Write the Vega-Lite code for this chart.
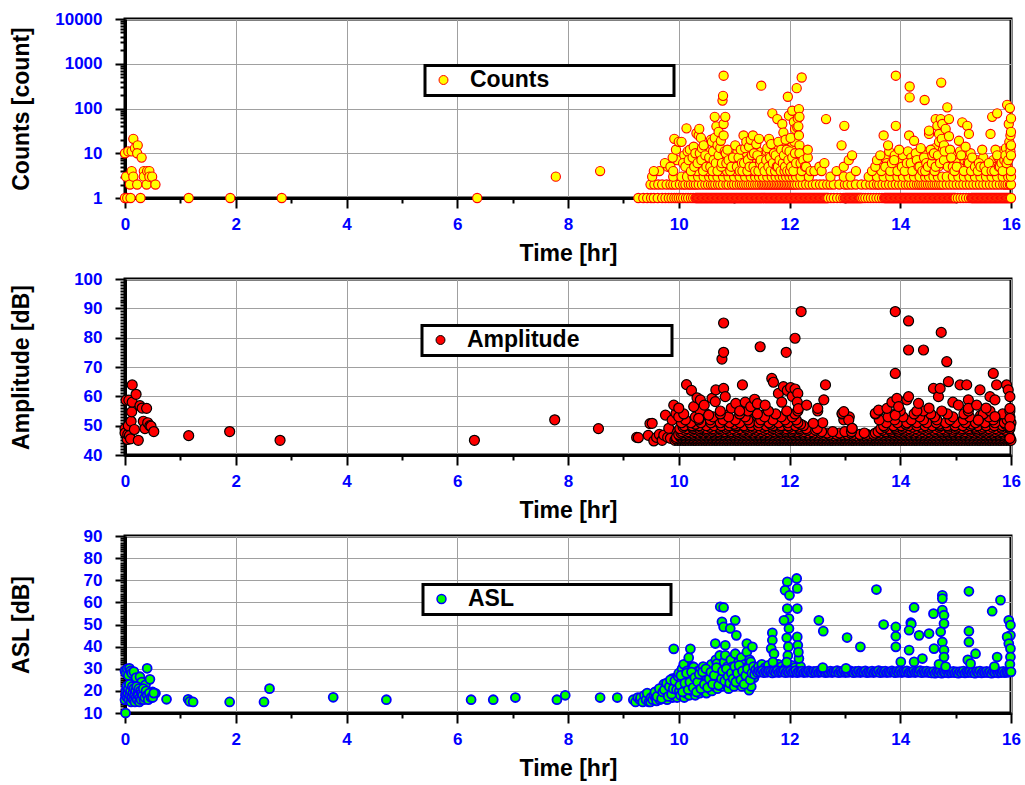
{
  "$schema": "https://vega.github.io/schema/vega-lite/v6.json",
  "background": "white",
  "padding": {"left": 9, "top": 8, "right": 0, "bottom": 0},
  "bounds": "flush",
  "spacing": 81,
  "config": {
    "font": "Liberation Sans",
    "view": {"stroke": "black", "strokeWidth": 3},
    "axis": {
      "labelFont": "Liberation Sans", "labelFontWeight": "bold", "labelColor": "#0000ff", "labelFontSize": 17,
      "titleFont": "Liberation Sans", "titleFontWeight": "bold", "titleFontSize": 23, "titleColor": "black",
      "domainColor": "black", "domainWidth": 3, "tickColor": "black", "tickWidth": 2,
      "gridColor": "#a0a0a0", "gridWidth": 1, "labelFlush": false, "labelOverlap": false
    },
    "legend": {
      "orient": "none", "title": null, "padding": 3, "symbolOffset": 4, "labelOffset": 15,
      "strokeColor": "black", "strokeWidth": 3, "fillColor": "white", "symbolType": "circle", "symbolSize": 80,
      "symbolOpacity": 1, "labelFontSize": 23, "labelFontWeight": "bold", "labelColor": "black",
      "labelFont": "Liberation Sans", "labelLimit": 0
    }
  },
  "resolve": {"scale": {"fill": "independent"}, "legend": {"fill": "independent"}},
  "datasets": {
    "counts": [
      {"t":0,"v":1},{"t":0.04,"v":1},{"t":0.1,"v":1},{"t":0.28,"v":1},{"t":0,"v":10},{"t":0.06,"v":11},{"t":0.12,"v":11},{"t":0.15,"v":21},{"t":0.18,"v":13},{"t":0.23,"v":15},{"t":0.22,"v":10},{"t":0.3,"v":8},{"t":0.02,"v":3},{"t":0.09,"v":2},{"t":0.12,"v":4},{"t":0.15,"v":3},{"t":0.22,"v":2},{"t":0.34,"v":4},{"t":0.34,"v":3},{"t":0.39,"v":2},{"t":0.4,"v":4},{"t":0.44,"v":4},{"t":0.44,"v":3},{"t":0.49,"v":3},{"t":0.55,"v":2},
      {"t":1.15,"v":1},{"t":1.9,"v":1},{"t":2.83,"v":1},{"t":6.36,"v":1},{"t":7.78,"v":3},{"t":8.58,"v":4},
      {"t":9.27,"v":1},{"t":9.36,"v":1},{"t":9.43,"v":1},{"t":9.5,"v":1},{"t":9.55,"v":1},{"t":9.62,"v":1},{"t":9.7,"v":1},{"t":9.76,"v":1},{"t":9.82,"v":1},{"t":9.87,"v":1},{"t":9.92,"v":1},{"t":9.96,"v":1},
      {"t":10.0,"v":1},{"t":10.04,"v":1},{"t":10.08,"v":1},{"t":10.13,"v":1},{"t":10.17,"v":1},{"t":10.22,"v":1},{"t":10.26,"v":1},{"t":10.3,"v":1},
      {"t":10.315,"v":1},{"t":10.33,"v":1},{"t":10.345,"v":1},{"t":10.36,"v":1},{"t":10.375,"v":1},{"t":10.39,"v":1},{"t":10.405,"v":1},{"t":10.42,"v":1},{"t":10.435,"v":1},{"t":10.45,"v":1},{"t":10.465,"v":1},{"t":10.48,"v":1},{"t":10.495,"v":1},{"t":10.51,"v":1},{"t":10.525,"v":1},{"t":10.54,"v":1},{"t":10.555,"v":1},{"t":10.57,"v":1},{"t":10.585,"v":1},{"t":10.6,"v":1},{"t":10.615,"v":1},{"t":10.63,"v":1},{"t":10.645,"v":1},{"t":10.66,"v":1},{"t":10.675,"v":1},{"t":10.69,"v":1},{"t":10.705,"v":1},{"t":10.72,"v":1},{"t":10.735,"v":1},{"t":10.75,"v":1},{"t":10.765,"v":1},{"t":10.78,"v":1},{"t":10.795,"v":1},{"t":10.81,"v":1},{"t":10.825,"v":1},{"t":10.84,"v":1},{"t":10.855,"v":1},{"t":10.87,"v":1},{"t":10.885,"v":1},{"t":10.9,"v":1},{"t":10.915,"v":1},{"t":10.93,"v":1},{"t":10.945,"v":1},{"t":10.96,"v":1},{"t":10.975,"v":1},{"t":10.99,"v":1},
      {"t":11.005,"v":1},{"t":11.02,"v":1},{"t":11.035,"v":1},{"t":11.05,"v":1},{"t":11.065,"v":1},{"t":11.08,"v":1},{"t":11.095,"v":1},{"t":11.11,"v":1},{"t":11.125,"v":1},{"t":11.14,"v":1},{"t":11.155,"v":1},{"t":11.17,"v":1},{"t":11.185,"v":1},{"t":11.2,"v":1},{"t":11.215,"v":1},{"t":11.23,"v":1},{"t":11.245,"v":1},{"t":11.26,"v":1},{"t":11.275,"v":1},{"t":11.29,"v":1},{"t":11.305,"v":1},{"t":11.32,"v":1},{"t":11.335,"v":1},{"t":11.35,"v":1},{"t":11.365,"v":1},{"t":11.38,"v":1},{"t":11.395,"v":1},{"t":11.41,"v":1},{"t":11.425,"v":1},{"t":11.44,"v":1},{"t":11.455,"v":1},{"t":11.47,"v":1},{"t":11.485,"v":1},{"t":11.5,"v":1},{"t":11.515,"v":1},{"t":11.53,"v":1},{"t":11.545,"v":1},{"t":11.56,"v":1},{"t":11.575,"v":1},{"t":11.59,"v":1},{"t":11.605,"v":1},{"t":11.62,"v":1},{"t":11.635,"v":1},{"t":11.65,"v":1},{"t":11.665,"v":1},{"t":11.68,"v":1},{"t":11.695,"v":1},{"t":11.71,"v":1},{"t":11.725,"v":1},{"t":11.74,"v":1},{"t":11.755,"v":1},{"t":11.77,"v":1},{"t":11.785,"v":1},{"t":11.8,"v":1},{"t":11.815,"v":1},{"t":11.83,"v":1},{"t":11.845,"v":1},{"t":11.86,"v":1},{"t":11.875,"v":1},{"t":11.89,"v":1},{"t":11.905,"v":1},{"t":11.92,"v":1},{"t":11.935,"v":1},{"t":11.95,"v":1},{"t":11.965,"v":1},{"t":11.98,"v":1},{"t":11.995,"v":1},
      {"t":12.01,"v":1},{"t":12.025,"v":1},{"t":12.04,"v":1},{"t":12.055,"v":1},{"t":12.07,"v":1},{"t":12.085,"v":1},{"t":12.1,"v":1},{"t":12.115,"v":1},{"t":12.13,"v":1},{"t":12.145,"v":1},{"t":12.16,"v":1},{"t":12.175,"v":1},{"t":12.19,"v":1},{"t":12.205,"v":1},{"t":12.22,"v":1},{"t":12.235,"v":1},{"t":12.25,"v":1},{"t":12.265,"v":1},{"t":12.28,"v":1},{"t":12.295,"v":1},{"t":12.31,"v":1},{"t":12.325,"v":1},{"t":12.34,"v":1},{"t":12.355,"v":1},{"t":12.37,"v":1},{"t":12.385,"v":1},{"t":12.4,"v":1},{"t":12.415,"v":1},{"t":12.43,"v":1},{"t":12.445,"v":1},{"t":12.46,"v":1},{"t":12.475,"v":1},{"t":12.49,"v":1},{"t":12.505,"v":1},{"t":12.52,"v":1},{"t":12.535,"v":1},{"t":12.55,"v":1},{"t":12.565,"v":1},{"t":12.58,"v":1},{"t":12.595,"v":1},{"t":12.61,"v":1},{"t":12.625,"v":1},{"t":12.64,"v":1},{"t":12.655,"v":1},{"t":12.67,"v":1},{"t":12.685,"v":1},{"t":12.7,"v":1},
      {"t":12.75,"v":1},{"t":12.8,"v":1},{"t":12.86,"v":1},{"t":12.92,"v":1},{"t":12.97,"v":1},{"t":13.0,"v":1},{"t":13.015,"v":1},{"t":13.03,"v":1},{"t":13.045,"v":1},{"t":13.06,"v":1},{"t":13.075,"v":1},{"t":13.09,"v":1},{"t":13.105,"v":1},{"t":13.12,"v":1},{"t":13.135,"v":1},{"t":13.15,"v":1},{"t":13.165,"v":1},{"t":13.18,"v":1},{"t":13.195,"v":1},{"t":13.21,"v":1},{"t":13.225,"v":1},{"t":13.24,"v":1},{"t":13.255,"v":1},{"t":13.27,"v":1},{"t":13.285,"v":1},{"t":13.3,"v":1},{"t":13.33,"v":1},{"t":13.37,"v":1},{"t":13.42,"v":1},{"t":13.47,"v":1},{"t":13.52,"v":1},{"t":13.57,"v":1},{"t":13.62,"v":1},{"t":13.67,"v":1},{"t":13.71,"v":1},
      {"t":13.725,"v":1},{"t":13.74,"v":1},{"t":13.755,"v":1},{"t":13.77,"v":1},{"t":13.785,"v":1},{"t":13.8,"v":1},{"t":13.815,"v":1},{"t":13.83,"v":1},{"t":13.845,"v":1},{"t":13.86,"v":1},{"t":13.875,"v":1},{"t":13.89,"v":1},{"t":13.905,"v":1},{"t":13.92,"v":1},{"t":13.935,"v":1},{"t":13.95,"v":1},{"t":13.965,"v":1},{"t":13.98,"v":1},{"t":13.995,"v":1},{"t":14.01,"v":1},{"t":14.025,"v":1},{"t":14.04,"v":1},{"t":14.055,"v":1},{"t":14.07,"v":1},{"t":14.085,"v":1},{"t":14.1,"v":1},{"t":14.115,"v":1},{"t":14.13,"v":1},{"t":14.145,"v":1},{"t":14.16,"v":1},{"t":14.175,"v":1},{"t":14.19,"v":1},{"t":14.205,"v":1},{"t":14.22,"v":1},{"t":14.235,"v":1},{"t":14.25,"v":1},{"t":14.265,"v":1},{"t":14.28,"v":1},{"t":14.295,"v":1},{"t":14.31,"v":1},{"t":14.325,"v":1},{"t":14.34,"v":1},{"t":14.355,"v":1},{"t":14.37,"v":1},{"t":14.385,"v":1},{"t":14.4,"v":1},{"t":14.415,"v":1},{"t":14.43,"v":1},{"t":14.445,"v":1},{"t":14.46,"v":1},{"t":14.475,"v":1},{"t":14.49,"v":1},{"t":14.505,"v":1},{"t":14.52,"v":1},{"t":14.535,"v":1},{"t":14.55,"v":1},{"t":14.565,"v":1},{"t":14.58,"v":1},{"t":14.595,"v":1},{"t":14.61,"v":1},{"t":14.625,"v":1},{"t":14.64,"v":1},{"t":14.655,"v":1},{"t":14.67,"v":1},{"t":14.685,"v":1},{"t":14.7,"v":1},{"t":14.715,"v":1},{"t":14.73,"v":1},{"t":14.745,"v":1},{"t":14.76,"v":1},{"t":14.775,"v":1},{"t":14.79,"v":1},{"t":14.805,"v":1},{"t":14.82,"v":1},{"t":14.835,"v":1},{"t":14.85,"v":1},{"t":14.865,"v":1},{"t":14.88,"v":1},{"t":14.895,"v":1},{"t":14.91,"v":1},{"t":14.925,"v":1},{"t":14.94,"v":1},{"t":14.955,"v":1},{"t":14.97,"v":1},{"t":14.985,"v":1},{"t":15.0,"v":1},
      {"t":15.04,"v":1},{"t":15.09,"v":1},{"t":15.14,"v":1},{"t":15.19,"v":1},{"t":15.24,"v":1},{"t":15.28,"v":1},
      {"t":15.295,"v":1},{"t":15.31,"v":1},{"t":15.325,"v":1},{"t":15.34,"v":1},{"t":15.355,"v":1},{"t":15.37,"v":1},{"t":15.385,"v":1},{"t":15.4,"v":1},{"t":15.415,"v":1},{"t":15.43,"v":1},{"t":15.445,"v":1},{"t":15.46,"v":1},{"t":15.475,"v":1},{"t":15.49,"v":1},{"t":15.505,"v":1},{"t":15.52,"v":1},{"t":15.535,"v":1},{"t":15.55,"v":1},{"t":15.565,"v":1},{"t":15.58,"v":1},{"t":15.595,"v":1},{"t":15.61,"v":1},{"t":15.625,"v":1},{"t":15.64,"v":1},{"t":15.655,"v":1},{"t":15.67,"v":1},{"t":15.685,"v":1},{"t":15.7,"v":1},{"t":15.715,"v":1},{"t":15.73,"v":1},{"t":15.745,"v":1},{"t":15.76,"v":1},{"t":15.775,"v":1},{"t":15.79,"v":1},{"t":15.805,"v":1},{"t":15.82,"v":1},{"t":15.835,"v":1},{"t":15.85,"v":1},{"t":15.865,"v":1},{"t":15.88,"v":1},{"t":15.895,"v":1},{"t":15.91,"v":1},{"t":15.925,"v":1},{"t":15.94,"v":1},{"t":15.955,"v":1},{"t":15.97,"v":1},{"t":15.985,"v":1},{"t":16.0,"v":1},
      {"t":9.49,"v":2},{"t":9.56,"v":2},{"t":9.63,"v":2},{"t":9.7,"v":2},{"t":9.78,"v":2},{"t":9.85,"v":2},{"t":9.9,"v":2},{"t":9.95,"v":2},{"t":10.02,"v":2},{"t":10.08,"v":2},{"t":10.12,"v":2},{"t":10.18,"v":2},{"t":10.22,"v":2},{"t":10.27,"v":2},{"t":10.31,"v":2},{"t":10.36,"v":2},{"t":10.42,"v":2},{"t":10.48,"v":2},{"t":10.53,"v":2},{"t":10.58,"v":2},{"t":10.62,"v":2},{"t":10.66,"v":2},{"t":10.71,"v":2},{"t":10.75,"v":2},{"t":10.8,"v":2},{"t":10.86,"v":2},{"t":10.9,"v":2},{"t":10.96,"v":2},{"t":11.0,"v":2},{"t":11.05,"v":2},{"t":11.1,"v":2},{"t":11.14,"v":2},{"t":11.18,"v":2},{"t":11.22,"v":2},{"t":11.26,"v":2},{"t":11.3,"v":2},{"t":11.34,"v":2},{"t":11.38,"v":2},{"t":11.42,"v":2},{"t":11.46,"v":2},{"t":11.5,"v":2},{"t":11.53,"v":2},{"t":11.56,"v":2},{"t":11.59,"v":2},{"t":11.62,"v":2},{"t":11.65,"v":2},{"t":11.68,"v":2},{"t":11.71,"v":2},{"t":11.74,"v":2},{"t":11.77,"v":2},{"t":11.8,"v":2},{"t":11.83,"v":2},{"t":11.86,"v":2},{"t":11.89,"v":2},{"t":11.92,"v":2},{"t":11.95,"v":2},{"t":11.98,"v":2},{"t":12.01,"v":2},{"t":12.04,"v":2},{"t":12.07,"v":2},{"t":12.1,"v":2},{"t":12.14,"v":2},{"t":12.19,"v":2},{"t":12.24,"v":2},{"t":12.3,"v":2},{"t":12.36,"v":2},{"t":12.42,"v":2},{"t":12.48,"v":2},{"t":12.55,"v":2},{"t":12.61,"v":2},{"t":12.68,"v":2},{"t":12.74,"v":2},{"t":12.8,"v":2},{"t":12.9,"v":2},{"t":13.0,"v":2},{"t":13.05,"v":2},{"t":13.12,"v":2},{"t":13.2,"v":2},{"t":13.3,"v":2},{"t":13.38,"v":2},{"t":13.46,"v":2},{"t":13.52,"v":2},{"t":13.58,"v":2},{"t":13.62,"v":2},{"t":13.68,"v":2},{"t":13.74,"v":2},{"t":13.8,"v":2},{"t":13.86,"v":2},{"t":13.92,"v":2},{"t":13.98,"v":2},{"t":14.04,"v":2},{"t":14.1,"v":2},{"t":14.15,"v":2},{"t":14.2,"v":2},{"t":14.25,"v":2},{"t":14.3,"v":2},{"t":14.34,"v":2},{"t":14.38,"v":2},{"t":14.42,"v":2},{"t":14.46,"v":2},{"t":14.5,"v":2},{"t":14.54,"v":2},{"t":14.58,"v":2},{"t":14.62,"v":2},{"t":14.66,"v":2},{"t":14.7,"v":2},{"t":14.74,"v":2},{"t":14.78,"v":2},{"t":14.84,"v":2},{"t":14.9,"v":2},{"t":14.96,"v":2},{"t":15.02,"v":2},{"t":15.08,"v":2},{"t":15.14,"v":2},{"t":15.2,"v":2},{"t":15.26,"v":2},{"t":15.32,"v":2},{"t":15.38,"v":2},{"t":15.44,"v":2},{"t":15.5,"v":2},{"t":15.56,"v":2},{"t":15.62,"v":2},{"t":15.68,"v":2},{"t":15.74,"v":2},{"t":15.8,"v":2},{"t":15.86,"v":2},{"t":15.9,"v":2},{"t":15.94,"v":2},{"t":15.98,"v":2},{"t":16.0,"v":2},
      {"t":9.52,"v":3},{"t":9.9,"v":3},{"t":10.05,"v":3},{"t":10.15,"v":3},{"t":10.25,"v":3},{"t":10.35,"v":3},{"t":10.45,"v":3},{"t":10.55,"v":3},{"t":10.62,"v":3},{"t":10.7,"v":3},{"t":10.8,"v":3},{"t":10.9,"v":3},{"t":11.0,"v":3},{"t":11.1,"v":3},{"t":11.2,"v":3},{"t":11.3,"v":3},{"t":11.38,"v":3},{"t":11.45,"v":3},{"t":11.52,"v":3},{"t":11.6,"v":3},{"t":11.68,"v":3},{"t":11.75,"v":3},{"t":11.82,"v":3},{"t":11.88,"v":3},{"t":11.94,"v":3},{"t":12.0,"v":3},{"t":12.06,"v":3},{"t":12.12,"v":3},{"t":12.2,"v":3},{"t":12.35,"v":3},{"t":12.74,"v":3},{"t":12.98,"v":3},{"t":13.1,"v":3},{"t":13.43,"v":3},{"t":13.58,"v":3},{"t":13.7,"v":3},{"t":13.82,"v":3},{"t":13.95,"v":3},{"t":14.05,"v":3},{"t":14.15,"v":3},{"t":14.25,"v":3},{"t":14.35,"v":3},{"t":14.45,"v":3},{"t":14.52,"v":3},{"t":14.6,"v":3},{"t":14.68,"v":3},{"t":14.76,"v":3},{"t":14.84,"v":3},{"t":14.95,"v":3},{"t":15.05,"v":3},{"t":15.15,"v":3},{"t":15.25,"v":3},{"t":15.35,"v":3},{"t":15.45,"v":3},{"t":15.55,"v":3},{"t":15.65,"v":3},{"t":15.75,"v":3},{"t":15.85,"v":3},{"t":15.95,"v":3},{"t":16.0,"v":3},
      {"t":9.65,"v":4},{"t":9.8,"v":5},{"t":9.97,"v":7},{"t":10.1,"v":9},{"t":10.16,"v":11},{"t":10.24,"v":6},{"t":10.33,"v":4},{"t":10.35,"v":8},{"t":10.43,"v":5},{"t":10.47,"v":12},
      {"t":10.52,"v":4},{"t":10.56,"v":6},{"t":10.59,"v":9},{"t":10.64,"v":5},{"t":10.66,"v":12},{"t":10.69,"v":8},{"t":10.71,"v":5},{"t":10.74,"v":7},{"t":10.78,"v":4},{"t":10.82,"v":8},{"t":10.87,"v":4},{"t":10.91,"v":9},{"t":10.96,"v":6},{"t":11.0,"v":4},{"t":11.03,"v":7},{"t":11.06,"v":11},{"t":11.09,"v":5},{"t":11.13,"v":9},{"t":11.16,"v":5},{"t":11.19,"v":8},{"t":11.21,"v":4},{"t":11.23,"v":10},{"t":11.26,"v":5},{"t":11.29,"v":8},{"t":11.31,"v":4},{"t":11.33,"v":6},{"t":11.37,"v":7},{"t":11.39,"v":13},{"t":11.41,"v":5},{"t":11.43,"v":11},{"t":11.46,"v":8},{"t":11.5,"v":6},{"t":11.53,"v":9},{"t":11.56,"v":5},{"t":11.59,"v":11},{"t":11.61,"v":6},{"t":11.64,"v":9},{"t":11.68,"v":5},{"t":11.71,"v":12},{"t":11.73,"v":7},{"t":11.76,"v":6},{"t":11.79,"v":9},{"t":11.81,"v":13},{"t":11.83,"v":5},{"t":11.86,"v":8},{"t":11.88,"v":16},{"t":11.9,"v":6},{"t":11.94,"v":8},{"t":11.97,"v":10},{"t":12.0,"v":6},{"t":12.04,"v":14},{"t":12.06,"v":6},{"t":12.09,"v":18},{"t":12.11,"v":8},{"t":12.13,"v":5},{"t":12.16,"v":7},{"t":12.19,"v":12},{"t":12.21,"v":8},{"t":12.24,"v":5},{"t":12.27,"v":9},
      {"t":13.6,"v":5},{"t":13.66,"v":4},{"t":13.72,"v":8},{"t":13.76,"v":6},{"t":13.8,"v":11},{"t":13.87,"v":5},{"t":13.9,"v":9},{"t":14.0,"v":7},{"t":14.05,"v":9},{"t":14.1,"v":5},{"t":14.14,"v":11},{"t":14.2,"v":8},{"t":14.24,"v":5},{"t":14.27,"v":7},{"t":14.32,"v":10},{"t":14.38,"v":6},{"t":14.42,"v":11},{"t":14.46,"v":9},{"t":14.49,"v":5},{"t":14.53,"v":8},{"t":14.56,"v":6},{"t":14.6,"v":7},{"t":14.63,"v":13},{"t":14.66,"v":6},{"t":14.69,"v":5},{"t":14.71,"v":9},{"t":14.74,"v":8},{"t":14.77,"v":12},{"t":14.81,"v":6},{"t":14.84,"v":9},{"t":14.87,"v":7},{"t":14.91,"v":6},{"t":14.94,"v":9},{"t":15.0,"v":7},{"t":15.04,"v":6},{"t":15.08,"v":11},{"t":15.11,"v":5},{"t":15.16,"v":7},{"t":15.2,"v":9},{"t":15.22,"v":6},{"t":15.27,"v":10},{"t":15.32,"v":5},{"t":15.38,"v":7},{"t":15.5,"v":8},{"t":15.58,"v":5},{"t":15.68,"v":7},{"t":15.73,"v":5},{"t":15.77,"v":8},{"t":15.82,"v":11},{"t":15.87,"v":5},{"t":15.91,"v":13},{"t":15.94,"v":5},{"t":15.97,"v":8},
      {"t":9.55,"v":4},{"t":9.75,"v":6},{"t":9.85,"v":5},{"t":9.89,"v":8},{"t":9.92,"v":21},{"t":9.95,"v":12},{"t":9.9,"v":4},{"t":10.0,"v":18},
      {"t":10.05,"v":18},{"t":10.08,"v":6},{"t":10.12,"v":5},{"t":10.14,"v":36},{"t":10.18,"v":7},{"t":10.2,"v":12},{"t":10.22,"v":4},{"t":10.25,"v":8},{"t":10.27,"v":14},{"t":10.28,"v":5},{"t":10.3,"v":10},{"t":10.32,"v":28},{"t":10.34,"v":6},{"t":10.36,"v":25},{"t":10.37,"v":35},{"t":10.38,"v":10},{"t":10.4,"v":22},{"t":10.41,"v":7},{"t":10.42,"v":13},{"t":10.44,"v":4},{"t":10.45,"v":15},{"t":10.48,"v":9},{"t":10.5,"v":5},
      {"t":10.55,"v":8},{"t":10.57,"v":5},{"t":10.58,"v":20},{"t":10.6,"v":18},{"t":10.61,"v":4},{"t":10.62,"v":11},{"t":10.63,"v":7},{"t":10.65,"v":65},{"t":10.65,"v":22},{"t":10.67,"v":6},{"t":10.68,"v":40},{"t":10.7,"v":15},{"t":10.7,"v":4},{"t":10.72,"v":30},{"t":10.72,"v":9},{"t":10.75,"v":13},{"t":10.76,"v":19},{"t":10.77,"v":5},{"t":10.78,"v":6},{"t":10.79,"v":150},{"t":10.8,"v":192},{"t":10.81,"v":540},{"t":10.81,"v":45},{"t":10.81,"v":25},{"t":10.83,"v":11},{"t":10.84,"v":65},{"t":10.85,"v":10},{"t":10.86,"v":6},{"t":10.88,"v":12},{"t":10.9,"v":7},{"t":10.93,"v":4},{"t":10.95,"v":5},{"t":10.98,"v":8},
      {"t":11.02,"v":15},{"t":11.05,"v":5},{"t":11.08,"v":8},{"t":11.1,"v":4},{"t":11.12,"v":12},{"t":11.14,"v":6},{"t":11.15,"v":4},{"t":11.17,"v":25},{"t":11.18,"v":6},{"t":11.2,"v":13},{"t":11.22,"v":18},{"t":11.24,"v":4},{"t":11.25,"v":7},{"t":11.27,"v":14},{"t":11.28,"v":5},{"t":11.3,"v":20},{"t":11.32,"v":9},{"t":11.34,"v":25},{"t":11.35,"v":5},{"t":11.36,"v":10},{"t":11.38,"v":4},{"t":11.4,"v":16},{"t":11.42,"v":9},{"t":11.44,"v":4},{"t":11.45,"v":21},{"t":11.47,"v":6},{"t":11.48,"v":7},{"t":11.49,"v":323},
      {"t":11.52,"v":5},{"t":11.55,"v":4},{"t":11.58,"v":7},{"t":11.6,"v":13},{"t":11.62,"v":5},{"t":11.63,"v":21},{"t":11.65,"v":8},{"t":11.66,"v":4},{"t":11.67,"v":16},{"t":11.69,"v":78},{"t":11.7,"v":6},{"t":11.72,"v":10},{"t":11.74,"v":4},{"t":11.75,"v":9},{"t":11.77,"v":5},{"t":11.78,"v":58},{"t":11.79,"v":5},{"t":11.8,"v":18},{"t":11.82,"v":7},{"t":11.84,"v":4},{"t":11.85,"v":12},{"t":11.87,"v":45},{"t":11.88,"v":6},{"t":11.89,"v":29},{"t":11.9,"v":9},{"t":11.91,"v":4},{"t":11.92,"v":5},{"t":11.93,"v":20},{"t":11.95,"v":12},{"t":11.96,"v":4},{"t":11.97,"v":183},{"t":11.98,"v":7},{"t":11.99,"v":69},{"t":12.0,"v":11},{"t":12.01,"v":4},{"t":12.02,"v":22},{"t":12.03,"v":5},{"t":12.05,"v":89},{"t":12.05,"v":8},{"t":12.07,"v":4},{"t":12.08,"v":50},{"t":12.1,"v":35},{"t":12.1,"v":10},{"t":12.12,"v":6},{"t":12.13,"v":285},{"t":12.14,"v":38},{"t":12.15,"v":60},{"t":12.16,"v":40},{"t":12.17,"v":97},{"t":12.17,"v":25},{"t":12.18,"v":65},{"t":12.18,"v":15},{"t":12.18,"v":10},{"t":12.2,"v":6},{"t":12.22,"v":493},{"t":12.22,"v":4},{"t":12.25,"v":7},{"t":12.28,"v":5},{"t":12.3,"v":5},{"t":12.33,"v":8},{"t":12.33,"v":12},{"t":12.38,"v":4},
      {"t":12.45,"v":4},{"t":12.54,"v":5},{"t":12.58,"v":4},{"t":12.63,"v":6},{"t":12.66,"v":58},{"t":12.85,"v":4},{"t":12.94,"v":15},{"t":12.98,"v":5},{"t":12.99,"v":41},
      {"t":13.07,"v":7},{"t":13.13,"v":9},{"t":13.2,"v":4},{"t":13.49,"v":4},{"t":13.55,"v":5},{"t":13.58,"v":7},{"t":13.64,"v":9},{"t":13.7,"v":25},{"t":13.73,"v":5},{"t":13.78,"v":15},{"t":13.82,"v":4},{"t":13.85,"v":6},{"t":13.89,"v":7},{"t":13.92,"v":41},{"t":13.92,"v":540},{"t":13.95,"v":4},{"t":13.98,"v":12},
      {"t":14.03,"v":5},{"t":14.08,"v":4},{"t":14.12,"v":6},{"t":14.16,"v":25},{"t":14.17,"v":310},{"t":14.17,"v":177},{"t":14.19,"v":6},{"t":14.22,"v":4},{"t":14.25,"v":19},{"t":14.28,"v":10},{"t":14.3,"v":7},{"t":14.33,"v":5},{"t":14.35,"v":5},{"t":14.37,"v":13},{"t":14.4,"v":4},{"t":14.43,"v":8},{"t":14.44,"v":155},{"t":14.45,"v":4},{"t":14.47,"v":6},{"t":14.5,"v":5},{"t":14.52,"v":27},{"t":14.52,"v":32},{"t":14.55,"v":12},{"t":14.57,"v":6},{"t":14.58,"v":9},{"t":14.61,"v":10},{"t":14.62,"v":4},{"t":14.64,"v":58},{"t":14.64,"v":5},{"t":14.67,"v":41},{"t":14.68,"v":9},{"t":14.7,"v":27},{"t":14.7,"v":18},{"t":14.72,"v":6},{"t":14.73,"v":58},{"t":14.74,"v":380},{"t":14.75,"v":21},{"t":14.76,"v":45},{"t":14.79,"v":15},{"t":14.79,"v":7},{"t":14.8,"v":11},{"t":14.82,"v":35},{"t":14.85,"v":106},{"t":14.86,"v":5},{"t":14.88,"v":58},{"t":14.88,"v":24},{"t":14.9,"v":12},{"t":14.92,"v":8},{"t":14.95,"v":5},{"t":14.98,"v":4},
      {"t":15.02,"v":5},{"t":15.06,"v":19},{"t":15.1,"v":9},{"t":15.12,"v":49},{"t":15.15,"v":4},{"t":15.18,"v":14},{"t":15.21,"v":41},{"t":15.24,"v":27},{"t":15.24,"v":6},{"t":15.28,"v":4},{"t":15.3,"v":8},{"t":15.35,"v":5},{"t":15.4,"v":4},{"t":15.42,"v":6},{"t":15.45,"v":5},{"t":15.48,"v":12},{"t":15.52,"v":5},{"t":15.55,"v":4},{"t":15.6,"v":6},{"t":15.63,"v":27},{"t":15.65,"v":4},{"t":15.66,"v":65},{"t":15.7,"v":4},{"t":15.72,"v":12},{"t":15.75,"v":78},{"t":15.75,"v":9},{"t":15.78,"v":5},{"t":15.8,"v":5},{"t":15.83,"v":6},{"t":15.85,"v":4},{"t":15.88,"v":7},{"t":15.9,"v":9},{"t":15.92,"v":6},{"t":15.93,"v":121},{"t":15.95,"v":7},{"t":15.96,"v":45},{"t":15.97,"v":18},{"t":15.98,"v":102},{"t":15.99,"v":25},{"t":15.99,"v":14},{"t":15.99,"v":11},{"t":16.0,"v":9},{"t":16.0,"v":4},{"t":16.0,"v":30},{"t":16.0,"v":60},{"t":16.0,"v":15}
    ],
    "amplitude": [
      {"t":0.0,"v":49},{"t":0.0,"v":47.5},{"t":0.02,"v":58.7},{"t":0.04,"v":45.3},{"t":0.05,"v":47},{"t":0.06,"v":50},{"t":0.07,"v":58.7},{"t":0.08,"v":46.6},{"t":0.1,"v":45.5},{"t":0.11,"v":51.5},{"t":0.12,"v":54.7},{"t":0.13,"v":58},{"t":0.13,"v":63.9},{"t":0.17,"v":48.7},{"t":0.2,"v":60.7},{"t":0.24,"v":45},{"t":0.27,"v":56.8},{"t":0.31,"v":56},{"t":0.33,"v":51.5},{"t":0.36,"v":49},{"t":0.39,"v":55.9},{"t":0.41,"v":51},{"t":0.45,"v":50},{"t":0.47,"v":49.8},{"t":0.52,"v":48},
      {"t":1.15,"v":46.6},{"t":1.89,"v":48},{"t":2.8,"v":45},{"t":6.31,"v":45},{"t":7.76,"v":52},{"t":8.55,"v":49},
      {"t":9.24,"v":46},{"t":9.27,"v":45.9},{"t":9.45,"v":46.7},{"t":9.48,"v":50.7},{"t":9.52,"v":50.8},{"t":9.55,"v":44.8},{"t":9.6,"v":46},{"t":9.65,"v":47},{"t":9.7,"v":45},{"t":9.73,"v":46.8},{"t":9.76,"v":53.6},{"t":9.8,"v":46},{"t":9.82,"v":49.1},{"t":9.85,"v":45.7},{"t":9.88,"v":51.9},{"t":9.95,"v":54.2},{"t":9.98,"v":48},
      {"t":9.93,"v":45},{"t":9.98,"v":45},{"t":10.03,"v":45},{"t":10.08,"v":45},{"t":10.12,"v":45},{"t":10.17,"v":45},{"t":10.22,"v":45},{"t":10.27,"v":45},{"t":10.31,"v":45},{"t":10.36,"v":45},{"t":10.41,"v":45},{"t":10.46,"v":45},{"t":10.5,"v":45},{"t":10.55,"v":45},{"t":10.6,"v":45},{"t":10.65,"v":45},{"t":10.69,"v":45},{"t":10.74,"v":45},{"t":10.79,"v":45},{"t":10.84,"v":45},{"t":10.88,"v":45},{"t":10.93,"v":45},{"t":10.98,"v":45},{"t":11.03,"v":45},{"t":11.07,"v":45},{"t":11.12,"v":45},{"t":11.17,"v":45},{"t":11.22,"v":45},{"t":11.26,"v":45},{"t":11.31,"v":45},{"t":11.36,"v":45},{"t":11.41,"v":45},{"t":11.45,"v":45},{"t":11.5,"v":45},{"t":11.55,"v":45},{"t":11.6,"v":45},{"t":11.64,"v":45},{"t":11.69,"v":45},{"t":11.74,"v":45},{"t":11.79,"v":45},{"t":11.83,"v":45},{"t":11.88,"v":45},{"t":11.93,"v":45},{"t":11.98,"v":45},{"t":12.02,"v":45},{"t":12.07,"v":45},{"t":12.12,"v":45},{"t":12.17,"v":45},{"t":12.21,"v":45},{"t":12.26,"v":45},{"t":12.31,"v":45},{"t":12.36,"v":45},{"t":12.4,"v":45},{"t":12.45,"v":45},{"t":12.5,"v":45},{"t":12.55,"v":45},{"t":12.59,"v":45},{"t":12.64,"v":45},{"t":12.69,"v":45},{"t":12.74,"v":45},{"t":12.78,"v":45},{"t":12.83,"v":45},{"t":12.88,"v":45},{"t":12.93,"v":45},{"t":12.97,"v":45},{"t":13.02,"v":45},{"t":13.07,"v":45},{"t":13.12,"v":45},{"t":13.16,"v":45},{"t":13.21,"v":45},{"t":13.26,"v":45},{"t":13.31,"v":45},{"t":13.35,"v":45},{"t":13.4,"v":45},{"t":13.45,"v":45},{"t":13.5,"v":45},{"t":13.54,"v":45},{"t":13.59,"v":45},{"t":13.64,"v":45},{"t":13.69,"v":45},{"t":13.73,"v":45},{"t":13.78,"v":45},{"t":13.83,"v":45},{"t":13.88,"v":45},{"t":13.92,"v":45},{"t":13.97,"v":45},{"t":14.02,"v":45},{"t":14.07,"v":45},{"t":14.11,"v":45},{"t":14.16,"v":45},{"t":14.21,"v":45},{"t":14.26,"v":45},{"t":14.3,"v":45},{"t":14.35,"v":45},{"t":14.4,"v":45},{"t":14.45,"v":45},{"t":14.49,"v":45},{"t":14.54,"v":45},{"t":14.59,"v":45},{"t":14.64,"v":45},{"t":14.68,"v":45},{"t":14.73,"v":45},{"t":14.78,"v":45},{"t":14.83,"v":45},{"t":14.87,"v":45},{"t":14.92,"v":45},{"t":14.97,"v":45},{"t":15.02,"v":45},{"t":15.06,"v":45},{"t":15.11,"v":45},{"t":15.16,"v":45},{"t":15.21,"v":45},{"t":15.25,"v":45},{"t":15.3,"v":45},{"t":15.35,"v":45},{"t":15.4,"v":45},{"t":15.44,"v":45},{"t":15.49,"v":45},{"t":15.54,"v":45},{"t":15.59,"v":45},{"t":15.63,"v":45},{"t":15.68,"v":45},{"t":15.73,"v":45},{"t":15.78,"v":45},{"t":15.82,"v":45},{"t":15.87,"v":45},{"t":15.92,"v":45},{"t":15.97,"v":45},{"t":16.0,"v":45},
      {"t":9.95,"v":45.5},{"t":10.01,"v":45.5},{"t":10.07,"v":45.5},{"t":10.13,"v":45.5},{"t":10.19,"v":45.5},{"t":10.25,"v":45.5},{"t":10.31,"v":45.5},{"t":10.37,"v":45.5},{"t":10.43,"v":45.5},{"t":10.49,"v":45.5},{"t":10.55,"v":45.5},{"t":10.61,"v":45.5},{"t":10.67,"v":45.5},{"t":10.73,"v":45.5},{"t":10.79,"v":45.5},{"t":10.85,"v":45.5},{"t":10.91,"v":45.5},{"t":10.97,"v":45.5},{"t":11.03,"v":45.5},{"t":11.09,"v":45.5},{"t":11.15,"v":45.5},{"t":11.21,"v":45.5},{"t":11.27,"v":45.5},{"t":11.33,"v":45.5},{"t":11.39,"v":45.5},{"t":11.45,"v":45.5},{"t":11.51,"v":45.5},{"t":11.57,"v":45.5},{"t":11.63,"v":45.5},{"t":11.69,"v":45.5},{"t":11.75,"v":45.5},{"t":11.81,"v":45.5},{"t":11.87,"v":45.5},{"t":11.93,"v":45.5},{"t":11.99,"v":45.5},{"t":12.05,"v":45.5},{"t":12.11,"v":45.5},{"t":12.17,"v":45.5},{"t":12.23,"v":45.5},{"t":12.29,"v":45.5},{"t":12.35,"v":45.5},{"t":12.41,"v":45.5},{"t":12.47,"v":45.5},{"t":12.53,"v":45.5},{"t":12.59,"v":45.5},{"t":12.65,"v":45.5},{"t":12.71,"v":45.5},{"t":12.77,"v":45.5},{"t":12.83,"v":45.5},{"t":12.89,"v":45.5},{"t":12.95,"v":45.5},{"t":13.01,"v":45.5},{"t":13.07,"v":45.5},{"t":13.13,"v":45.5},{"t":13.19,"v":45.5},{"t":13.25,"v":45.5},{"t":13.31,"v":45.5},{"t":13.37,"v":45.5},{"t":13.43,"v":45.5},{"t":13.49,"v":45.5},{"t":13.55,"v":45.5},{"t":13.61,"v":45.5},{"t":13.67,"v":45.5},{"t":13.73,"v":45.5},{"t":13.79,"v":45.5},{"t":13.85,"v":45.5},{"t":13.91,"v":45.5},{"t":13.97,"v":45.5},{"t":14.03,"v":45.5},{"t":14.09,"v":45.5},{"t":14.15,"v":45.5},{"t":14.21,"v":45.5},{"t":14.27,"v":45.5},{"t":14.33,"v":45.5},{"t":14.39,"v":45.5},{"t":14.45,"v":45.5},{"t":14.51,"v":45.5},{"t":14.57,"v":45.5},{"t":14.63,"v":45.5},{"t":14.69,"v":45.5},{"t":14.75,"v":45.5},{"t":14.81,"v":45.5},{"t":14.87,"v":45.5},{"t":14.93,"v":45.5},{"t":14.99,"v":45.5},{"t":15.05,"v":45.5},{"t":15.11,"v":45.5},{"t":15.17,"v":45.5},{"t":15.23,"v":45.5},{"t":15.29,"v":45.5},{"t":15.35,"v":45.5},{"t":15.41,"v":45.5},{"t":15.47,"v":45.5},{"t":15.53,"v":45.5},{"t":15.59,"v":45.5},{"t":15.65,"v":45.5},{"t":15.71,"v":45.5},{"t":15.77,"v":45.5},{"t":15.83,"v":45.5},{"t":15.89,"v":45.5},{"t":15.95,"v":45.5},
      {"t":9.96,"v":46},{"t":10.04,"v":46},{"t":10.1,"v":46},{"t":10.17,"v":46},{"t":10.24,"v":46},{"t":10.31,"v":46},{"t":10.38,"v":46},{"t":10.45,"v":46},{"t":10.52,"v":46},{"t":10.58,"v":46},{"t":10.65,"v":46},{"t":10.72,"v":46},{"t":10.79,"v":46},{"t":10.86,"v":46},{"t":10.93,"v":46},{"t":11.0,"v":46},{"t":11.06,"v":46},{"t":11.13,"v":46},{"t":11.2,"v":46},{"t":11.27,"v":46},{"t":11.34,"v":46},{"t":11.41,"v":46},{"t":11.47,"v":46},{"t":11.54,"v":46},{"t":11.61,"v":46},{"t":11.68,"v":46},{"t":11.75,"v":46},{"t":11.82,"v":46},{"t":11.88,"v":46},{"t":11.95,"v":46},{"t":12.02,"v":46},{"t":12.09,"v":46},{"t":12.16,"v":46},{"t":12.23,"v":46},{"t":12.3,"v":46},{"t":12.36,"v":46},{"t":12.43,"v":46},{"t":12.5,"v":46},{"t":12.57,"v":46},{"t":12.64,"v":46},{"t":12.71,"v":46},{"t":12.77,"v":46},{"t":12.84,"v":46},{"t":12.91,"v":46},{"t":12.98,"v":46},{"t":13.05,"v":46},{"t":13.12,"v":46},{"t":13.18,"v":46},{"t":13.25,"v":46},{"t":13.32,"v":46},{"t":13.39,"v":46},{"t":13.46,"v":46},{"t":13.53,"v":46},{"t":13.59,"v":46},{"t":13.66,"v":46},{"t":13.73,"v":46},{"t":13.8,"v":46},{"t":13.87,"v":46},{"t":13.94,"v":46},{"t":14.0,"v":46},{"t":14.07,"v":46},{"t":14.14,"v":46},{"t":14.21,"v":46},{"t":14.28,"v":46},{"t":14.35,"v":46},{"t":14.41,"v":46},{"t":14.48,"v":46},{"t":14.55,"v":46},{"t":14.62,"v":46},{"t":14.69,"v":46},{"t":14.76,"v":46},{"t":14.82,"v":46},{"t":14.89,"v":46},{"t":14.96,"v":46},{"t":15.03,"v":46},{"t":15.1,"v":46},{"t":15.17,"v":46},{"t":15.23,"v":46},{"t":15.3,"v":46},{"t":15.37,"v":46},{"t":15.44,"v":46},{"t":15.51,"v":46},{"t":15.58,"v":46},{"t":15.64,"v":46},{"t":15.71,"v":46},{"t":15.78,"v":46},{"t":15.85,"v":46},{"t":15.92,"v":46},{"t":15.98,"v":46},
      {"t":10.02,"v":46.5},{"t":10.1,"v":46.5},{"t":10.18,"v":46.5},{"t":10.26,"v":46.5},{"t":10.34,"v":46.5},{"t":10.42,"v":46.5},{"t":10.5,"v":46.5},{"t":10.58,"v":46.5},{"t":10.66,"v":46.5},{"t":10.74,"v":46.5},{"t":10.82,"v":46.5},{"t":10.9,"v":46.5},{"t":10.98,"v":46.5},{"t":11.06,"v":46.5},{"t":11.14,"v":46.5},{"t":11.22,"v":46.5},{"t":11.3,"v":46.5},{"t":11.38,"v":46.5},{"t":11.46,"v":46.5},{"t":11.54,"v":46.5},{"t":11.62,"v":46.5},{"t":11.7,"v":46.5},{"t":11.78,"v":46.5},{"t":11.86,"v":46.5},{"t":11.94,"v":46.5},{"t":12.02,"v":46.5},{"t":12.1,"v":46.5},{"t":12.18,"v":46.5},{"t":12.26,"v":46.5},{"t":12.34,"v":46.5},{"t":12.42,"v":46.5},{"t":12.5,"v":46.5},{"t":12.58,"v":46.5},{"t":12.66,"v":46.5},{"t":12.74,"v":46.5},{"t":12.82,"v":46.5},{"t":12.9,"v":46.5},{"t":12.98,"v":46.5},{"t":13.06,"v":46.5},{"t":13.14,"v":46.5},{"t":13.22,"v":46.5},{"t":13.3,"v":46.5},{"t":13.38,"v":46.5},{"t":13.46,"v":46.5},{"t":13.54,"v":46.5},{"t":13.62,"v":46.5},{"t":13.7,"v":46.5},{"t":13.78,"v":46.5},{"t":13.86,"v":46.5},{"t":13.94,"v":46.5},{"t":14.02,"v":46.5},{"t":14.1,"v":46.5},{"t":14.18,"v":46.5},{"t":14.26,"v":46.5},{"t":14.34,"v":46.5},{"t":14.42,"v":46.5},{"t":14.5,"v":46.5},{"t":14.58,"v":46.5},{"t":14.66,"v":46.5},{"t":14.74,"v":46.5},{"t":14.82,"v":46.5},{"t":14.9,"v":46.5},{"t":14.98,"v":46.5},{"t":15.06,"v":46.5},{"t":15.14,"v":46.5},{"t":15.22,"v":46.5},{"t":15.3,"v":46.5},{"t":15.38,"v":46.5},{"t":15.46,"v":46.5},{"t":15.54,"v":46.5},{"t":15.62,"v":46.5},{"t":15.7,"v":46.5},{"t":15.78,"v":46.5},{"t":15.86,"v":46.5},{"t":15.94,"v":46.5},
      {"t":10.0,"v":47},{"t":10.09,"v":47},{"t":10.18,"v":47},{"t":10.27,"v":47},{"t":10.36,"v":47},{"t":10.45,"v":47},{"t":10.54,"v":47},{"t":10.63,"v":47},{"t":10.72,"v":47},{"t":10.81,"v":47},{"t":10.9,"v":47},{"t":10.99,"v":47},{"t":11.08,"v":47},{"t":11.17,"v":47},{"t":11.26,"v":47},{"t":11.35,"v":47},{"t":11.44,"v":47},{"t":11.53,"v":47},{"t":11.62,"v":47},{"t":11.71,"v":47},{"t":11.8,"v":47},{"t":11.89,"v":47},{"t":11.98,"v":47},{"t":12.07,"v":47},{"t":12.16,"v":47},{"t":12.25,"v":47},{"t":12.34,"v":47},{"t":12.43,"v":47},{"t":12.52,"v":47},{"t":12.61,"v":47},{"t":12.72,"v":47},{"t":12.85,"v":47},{"t":12.96,"v":47},{"t":13.05,"v":47},{"t":13.15,"v":47},{"t":13.27,"v":47},{"t":13.4,"v":47},{"t":13.52,"v":47},{"t":13.62,"v":47},{"t":13.71,"v":47},{"t":13.8,"v":47},{"t":13.89,"v":47},{"t":13.98,"v":47},{"t":14.07,"v":47},{"t":14.16,"v":47},{"t":14.25,"v":47},{"t":14.34,"v":47},{"t":14.43,"v":47},{"t":14.52,"v":47},{"t":14.61,"v":47},{"t":14.7,"v":47},{"t":14.79,"v":47},{"t":14.88,"v":47},{"t":14.97,"v":47},{"t":15.06,"v":47},{"t":15.15,"v":47},{"t":15.24,"v":47},{"t":15.33,"v":47},{"t":15.42,"v":47},{"t":15.51,"v":47},{"t":15.6,"v":47},{"t":15.69,"v":47},{"t":15.78,"v":47},{"t":15.87,"v":47},{"t":15.96,"v":47},
      {"t":10.04,"v":47.5},{"t":10.14,"v":47.5},{"t":10.24,"v":47.5},{"t":10.34,"v":47.5},{"t":10.44,"v":47.5},{"t":10.54,"v":47.5},{"t":10.64,"v":47.5},{"t":10.74,"v":47.5},{"t":10.84,"v":47.5},{"t":10.94,"v":47.5},{"t":11.04,"v":47.5},{"t":11.14,"v":47.5},{"t":11.24,"v":47.5},{"t":11.34,"v":47.5},{"t":11.44,"v":47.5},{"t":11.54,"v":47.5},{"t":11.64,"v":47.5},{"t":11.74,"v":47.5},{"t":11.84,"v":47.5},{"t":11.94,"v":47.5},{"t":12.04,"v":47.5},{"t":12.14,"v":47.5},{"t":12.24,"v":47.5},{"t":12.34,"v":47.5},{"t":12.44,"v":47.5},{"t":12.56,"v":47.5},{"t":12.68,"v":47.5},{"t":12.9,"v":47.5},{"t":13.1,"v":47.5},{"t":13.35,"v":47.5},{"t":13.55,"v":47.5},{"t":13.65,"v":47.5},{"t":13.75,"v":47.5},{"t":13.85,"v":47.5},{"t":13.95,"v":47.5},{"t":14.05,"v":47.5},{"t":14.15,"v":47.5},{"t":14.25,"v":47.5},{"t":14.35,"v":47.5},{"t":14.45,"v":47.5},{"t":14.55,"v":47.5},{"t":14.65,"v":47.5},{"t":14.75,"v":47.5},{"t":14.85,"v":47.5},{"t":14.95,"v":47.5},{"t":15.05,"v":47.5},{"t":15.15,"v":47.5},{"t":15.25,"v":47.5},{"t":15.35,"v":47.5},{"t":15.45,"v":47.5},{"t":15.55,"v":47.5},{"t":15.65,"v":47.5},{"t":15.75,"v":47.5},{"t":15.85,"v":47.5},{"t":15.95,"v":47.5},
      {"t":10.06,"v":48},{"t":10.17,"v":48},{"t":10.28,"v":48},{"t":10.39,"v":48},{"t":10.5,"v":48},{"t":10.61,"v":48},{"t":10.72,"v":48},{"t":10.83,"v":48},{"t":10.94,"v":48},{"t":11.05,"v":48},{"t":11.16,"v":48},{"t":11.27,"v":48},{"t":11.38,"v":48},{"t":11.49,"v":48},{"t":11.6,"v":48},{"t":11.71,"v":48},{"t":11.82,"v":48},{"t":11.93,"v":48},{"t":12.04,"v":48},{"t":12.15,"v":48},{"t":12.26,"v":48},{"t":12.4,"v":48},{"t":12.58,"v":48},{"t":12.78,"v":48},{"t":13.0,"v":48},{"t":13.12,"v":48},{"t":13.6,"v":48},{"t":13.74,"v":48},{"t":13.85,"v":48},{"t":13.96,"v":48},{"t":14.07,"v":48},{"t":14.18,"v":48},{"t":14.29,"v":48},{"t":14.4,"v":48},{"t":14.51,"v":48},{"t":14.62,"v":48},{"t":14.73,"v":48},{"t":14.84,"v":48},{"t":14.95,"v":48},{"t":15.06,"v":48},{"t":15.17,"v":48},{"t":15.28,"v":48},{"t":15.39,"v":48},{"t":15.5,"v":48},{"t":15.61,"v":48},{"t":15.72,"v":48},{"t":15.83,"v":48},{"t":15.94,"v":48},
      {"t":10.11,"v":48.5},{"t":10.24,"v":48.5},{"t":10.37,"v":48.5},{"t":10.5,"v":48.5},{"t":10.63,"v":48.5},{"t":10.76,"v":48.5},{"t":10.89,"v":48.5},{"t":11.02,"v":48.5},{"t":11.15,"v":48.5},{"t":11.28,"v":48.5},{"t":11.41,"v":48.5},{"t":11.54,"v":48.5},{"t":11.67,"v":48.5},{"t":11.8,"v":48.5},{"t":11.93,"v":48.5},{"t":12.06,"v":48.5},{"t":12.19,"v":48.5},{"t":12.32,"v":48.5},{"t":12.47,"v":48.5},{"t":13.68,"v":48.5},{"t":13.81,"v":48.5},{"t":13.94,"v":48.5},{"t":14.07,"v":48.5},{"t":14.2,"v":48.5},{"t":14.33,"v":48.5},{"t":14.46,"v":48.5},{"t":14.59,"v":48.5},{"t":14.72,"v":48.5},{"t":14.85,"v":48.5},{"t":14.98,"v":48.5},{"t":15.11,"v":48.5},{"t":15.24,"v":48.5},{"t":15.37,"v":48.5},{"t":15.5,"v":48.5},{"t":15.63,"v":48.5},{"t":15.76,"v":48.5},{"t":15.89,"v":48.5},
      {"t":10.02,"v":49},{"t":10.14,"v":49},{"t":10.26,"v":49},{"t":10.38,"v":49},{"t":10.5,"v":49},{"t":10.62,"v":49},{"t":10.74,"v":49},{"t":10.86,"v":49},{"t":10.98,"v":49},{"t":11.1,"v":49},{"t":11.22,"v":49},{"t":11.34,"v":49},{"t":11.46,"v":49},{"t":11.58,"v":49},{"t":11.7,"v":49},{"t":11.82,"v":49},{"t":11.94,"v":49},{"t":12.06,"v":49},{"t":12.18,"v":49},{"t":12.3,"v":49},{"t":12.5,"v":49},{"t":13.13,"v":49},{"t":13.65,"v":49},{"t":13.8,"v":49},{"t":13.92,"v":49},{"t":14.04,"v":49},{"t":14.16,"v":49},{"t":14.28,"v":49},{"t":14.4,"v":49},{"t":14.52,"v":49},{"t":14.64,"v":49},{"t":14.76,"v":49},{"t":14.88,"v":49},{"t":15.0,"v":49},{"t":15.12,"v":49},{"t":15.24,"v":49},{"t":15.36,"v":49},{"t":15.48,"v":49},{"t":15.6,"v":49},{"t":15.72,"v":49},{"t":15.84,"v":49},{"t":15.98,"v":49},
      {"t":10.08,"v":49.5},{"t":10.24,"v":49.5},{"t":10.4,"v":49.5},{"t":10.56,"v":49.5},{"t":10.72,"v":49.5},{"t":10.88,"v":49.5},{"t":11.04,"v":49.5},{"t":11.2,"v":49.5},{"t":11.36,"v":49.5},{"t":11.52,"v":49.5},{"t":11.68,"v":49.5},{"t":11.84,"v":49.5},{"t":12.0,"v":49.5},{"t":12.16,"v":49.5},{"t":13.72,"v":49.5},{"t":13.9,"v":49.5},{"t":14.06,"v":49.5},{"t":14.22,"v":49.5},{"t":14.38,"v":49.5},{"t":14.54,"v":49.5},{"t":14.7,"v":49.5},{"t":14.86,"v":49.5},{"t":15.02,"v":49.5},{"t":15.18,"v":49.5},{"t":15.34,"v":49.5},{"t":15.5,"v":49.5},{"t":15.66,"v":49.5},{"t":15.82,"v":49.5},{"t":15.96,"v":49.5},
      {"t":10.1,"v":50},{"t":10.24,"v":50},{"t":10.37,"v":50},{"t":10.5,"v":50},{"t":10.64,"v":50},{"t":10.77,"v":50},{"t":10.91,"v":50},{"t":11.04,"v":50},{"t":11.18,"v":50},{"t":11.31,"v":50},{"t":11.44,"v":50},{"t":11.58,"v":50},{"t":11.71,"v":50},{"t":11.85,"v":50},{"t":11.98,"v":50},{"t":12.11,"v":50},{"t":12.25,"v":50},{"t":13.7,"v":50},{"t":13.88,"v":50},{"t":14.02,"v":50},{"t":14.15,"v":50},{"t":14.3,"v":50},{"t":14.45,"v":50},{"t":14.58,"v":50},{"t":14.72,"v":50},{"t":14.85,"v":50},{"t":14.99,"v":50},{"t":15.13,"v":50},{"t":15.27,"v":50},{"t":15.4,"v":50},{"t":15.55,"v":50},{"t":15.7,"v":50},{"t":15.85,"v":50},{"t":15.98,"v":50},
      {"t":10.3,"v":50.5},{"t":10.68,"v":51.5},{"t":11.0,"v":50.5},{"t":11.35,"v":52.5},{"t":11.66,"v":50.5},{"t":11.9,"v":51.5},{"t":12.2,"v":50.5},{"t":14.1,"v":50.5},{"t":14.4,"v":52.5},{"t":14.7,"v":50.5},{"t":15.0,"v":51.5},{"t":15.3,"v":50.5},{"t":15.7,"v":52.5},{"t":15.9,"v":50.5},{"t":10.85,"v":53.5},{"t":11.5,"v":53.5},{"t":14.55,"v":53.5},{"t":15.45,"v":53.5},
      {"t":10.05,"v":51},{"t":10.22,"v":51},{"t":10.4,"v":51},{"t":10.58,"v":51},{"t":10.75,"v":51},{"t":10.92,"v":51},{"t":11.1,"v":51},{"t":11.28,"v":51},{"t":11.45,"v":51},{"t":11.63,"v":51},{"t":11.8,"v":51},{"t":11.97,"v":51},{"t":12.15,"v":51},{"t":12.6,"v":51},{"t":13.75,"v":51},{"t":13.95,"v":51},{"t":14.12,"v":51},{"t":14.3,"v":51},{"t":14.48,"v":51},{"t":14.65,"v":51},{"t":14.82,"v":51},{"t":15.0,"v":51},{"t":15.18,"v":51},{"t":15.36,"v":51},{"t":15.53,"v":51},{"t":15.71,"v":51},{"t":15.88,"v":51},{"t":16.0,"v":51},
      {"t":10.12,"v":52},{"t":10.36,"v":52},{"t":10.57,"v":52},{"t":10.8,"v":52},{"t":11.02,"v":52},{"t":11.25,"v":52},{"t":11.48,"v":52},{"t":11.7,"v":52},{"t":11.92,"v":52},{"t":12.12,"v":52},{"t":12.98,"v":52},{"t":13.62,"v":52},{"t":13.9,"v":52},{"t":14.2,"v":52},{"t":14.42,"v":52},{"t":14.66,"v":52},{"t":14.9,"v":52},{"t":15.14,"v":52},{"t":15.41,"v":52},{"t":15.68,"v":52},{"t":15.93,"v":52},
      {"t":10.0,"v":53},{"t":10.3,"v":53},{"t":10.62,"v":53},{"t":10.9,"v":53},{"t":11.2,"v":53},{"t":11.55,"v":53},{"t":11.85,"v":53},{"t":12.05,"v":53},{"t":13.08,"v":53},{"t":13.78,"v":53},{"t":14.05,"v":53},{"t":14.35,"v":53},{"t":14.62,"v":53},{"t":14.95,"v":53},{"t":15.25,"v":53},{"t":15.6,"v":53},{"t":15.98,"v":53},
      {"t":10.09,"v":54},{"t":10.5,"v":54},{"t":10.75,"v":54},{"t":11.1,"v":54},{"t":11.42,"v":54},{"t":11.75,"v":54},{"t":12.1,"v":54},{"t":12.95,"v":54},{"t":13.55,"v":54},{"t":13.91,"v":54},{"t":14.25,"v":54},{"t":14.55,"v":54},{"t":14.85,"v":54},{"t":15.15,"v":54},{"t":15.5,"v":54},{"t":15.85,"v":54},
      {"t":10.39,"v":55},{"t":10.75,"v":55},{"t":11.25,"v":55},{"t":11.62,"v":55},{"t":11.95,"v":55},{"t":12.15,"v":55},{"t":12.51,"v":55},{"t":13.61,"v":55},{"t":14.0,"v":55},{"t":14.42,"v":55},{"t":14.75,"v":55},{"t":15.23,"v":55},{"t":15.62,"v":55},{"t":15.98,"v":55},
      {"t":9.91,"v":57},{"t":10.0,"v":56},{"t":10.14,"v":64},{"t":10.23,"v":62},{"t":10.27,"v":56.5},{"t":10.33,"v":59.5},{"t":10.39,"v":58.8},{"t":10.36,"v":52.5},{"t":10.46,"v":57},{"t":10.6,"v":59.3},{"t":10.66,"v":58.2},{"t":10.67,"v":62.2},{"t":10.78,"v":72.7},{"t":10.81,"v":75},{"t":10.81,"v":85},{"t":10.81,"v":62.7},{"t":10.84,"v":59.9},{"t":10.54,"v":53.6},{"t":10.95,"v":56},{"t":11.03,"v":57.6},{"t":11.1,"v":55},{"t":11.15,"v":63.9},{"t":11.2,"v":58},{"t":11.3,"v":56.5},{"t":11.37,"v":59},{"t":11.42,"v":57.5},{"t":11.47,"v":76.9},{"t":11.56,"v":57},{"t":11.68,"v":66.1},{"t":11.71,"v":64.8},{"t":11.8,"v":61},{"t":11.86,"v":58},{"t":11.89,"v":63.3},{"t":11.94,"v":75},{"t":11.96,"v":62},{"t":12.02,"v":63},{"t":12.05,"v":60},{"t":12.1,"v":79.8},{"t":12.1,"v":62.5},{"t":12.15,"v":61},{"t":12.14,"v":58},{"t":12.16,"v":55.8},{"t":12.21,"v":88.9},{"t":12.31,"v":57},{"t":12.43,"v":50.8},{"t":12.51,"v":55.9},{"t":12.62,"v":58.8},{"t":12.65,"v":63.9},{"t":12.95,"v":54.2},{"t":12.98,"v":54.8},{"t":13.07,"v":51.9},{"t":13.13,"v":49.1},{"t":13.55,"v":54.2},{"t":13.61,"v":55.3},{"t":13.76,"v":55.9},{"t":13.85,"v":58},{"t":13.91,"v":88.9},{"t":13.91,"v":67.8},{"t":13.94,"v":59.3},{"t":13.91,"v":53.6},{"t":13.97,"v":56.5},{"t":14.12,"v":58.8},{"t":14.15,"v":59.9},{"t":14.15,"v":75.8},{"t":14.15,"v":85.7},{"t":14.3,"v":55},{"t":14.33,"v":57.6},{"t":14.42,"v":75.8},{"t":14.52,"v":56},{"t":14.6,"v":62.7},{"t":14.69,"v":59.9},{"t":14.72,"v":62.7},{"t":14.74,"v":81.8},{"t":14.84,"v":71.8},{"t":14.87,"v":65},{"t":14.95,"v":58},{"t":15.05,"v":57},{"t":15.08,"v":63.9},{"t":15.2,"v":63.9},{"t":15.23,"v":58.8},{"t":15.23,"v":55.9},{"t":15.38,"v":57},{"t":15.41,"v":51.9},{"t":15.44,"v":62.2},{"t":15.55,"v":56},{"t":15.62,"v":59.9},{"t":15.68,"v":67.8},{"t":15.71,"v":58.8},{"t":15.71,"v":53.1},{"t":15.74,"v":63.9},{"t":15.92,"v":63.9},{"t":15.95,"v":62.2},{"t":15.98,"v":59.9},{"t":15.98,"v":55.9},{"t":15.98,"v":52.5},{"t":15.98,"v":49.7},{"t":15.98,"v":45.7}
    ],
    "asl": [
      {"t":0.0,"v":29},{"t":0.02,"v":28},{"t":0.04,"v":30},{"t":0.06,"v":27},{"t":0.08,"v":30.2},{"t":0.1,"v":29},{"t":0.12,"v":28},{"t":0.16,"v":28.7},{"t":0.2,"v":26},{"t":0.27,"v":26.4},{"t":0.3,"v":24},{"t":0.4,"v":30.2},{"t":0.37,"v":22.7},{"t":0.45,"v":25.2},{"t":0.5,"v":19.5},{"t":0.55,"v":18.9},
      {"t":0.0,"v":16},{"t":0.01,"v":18},{"t":0.02,"v":20},{"t":0.03,"v":22},{"t":0.04,"v":17},{"t":0.05,"v":19},{"t":0.06,"v":21},{"t":0.07,"v":16},{"t":0.08,"v":23},{"t":0.09,"v":18},{"t":0.1,"v":20},{"t":0.11,"v":15},{"t":0.12,"v":17},{"t":0.13,"v":22},{"t":0.14,"v":19},{"t":0.15,"v":16},{"t":0.16,"v":21},{"t":0.17,"v":18},{"t":0.18,"v":15},{"t":0.19,"v":20},{"t":0.2,"v":17},{"t":0.21,"v":22},{"t":0.22,"v":16},{"t":0.23,"v":19},{"t":0.24,"v":18},{"t":0.25,"v":21},{"t":0.26,"v":15},{"t":0.27,"v":17},{"t":0.28,"v":20},{"t":0.29,"v":16},{"t":0.3,"v":19},{"t":0.32,"v":18},{"t":0.33,"v":21},{"t":0.34,"v":16},{"t":0.36,"v":17},{"t":0.38,"v":20},{"t":0.4,"v":18},{"t":0.42,"v":16},{"t":0.44,"v":19},{"t":0.47,"v":17},{"t":0.5,"v":17},{"t":0.52,"v":19},{"t":0.01,"v":10},
      {"t":0.75,"v":16.2},{"t":1.14,"v":16.2},{"t":1.17,"v":15.2},{"t":1.23,"v":15},{"t":1.89,"v":15},{"t":2.51,"v":15},{"t":2.61,"v":21},{"t":3.76,"v":17.1},{"t":4.72,"v":16},{"t":6.25,"v":16},{"t":6.65,"v":16},{"t":7.05,"v":17},{"t":7.8,"v":16},{"t":7.95,"v":18},{"t":8.58,"v":17},{"t":8.89,"v":17},
      {"t":9.18,"v":16},{"t":9.22,"v":15},{"t":9.26,"v":17},{"t":9.3,"v":16},{"t":9.31,"v":17},{"t":9.35,"v":15},{"t":9.38,"v":18},{"t":9.41,"v":16},{"t":9.43,"v":19},{"t":9.46,"v":15},{"t":9.49,"v":15},{"t":9.5,"v":17},{"t":9.53,"v":16},{"t":9.55,"v":18},{"t":9.58,"v":17},{"t":9.6,"v":15.5},{"t":9.62,"v":19},{"t":9.64,"v":17},{"t":9.66,"v":16},{"t":9.68,"v":20},{"t":9.7,"v":18},{"t":9.72,"v":22},{"t":9.73,"v":23},{"t":9.75,"v":17},{"t":9.77,"v":19},{"t":9.79,"v":16},{"t":9.8,"v":21},{"t":9.82,"v":24},{"t":9.84,"v":18},{"t":9.86,"v":20},{"t":9.88,"v":25.5},{"t":9.89,"v":17},{"t":9.91,"v":39},{"t":9.92,"v":22},{"t":9.94,"v":19},{"t":9.95,"v":26},{"t":9.97,"v":17},{"t":9.98,"v":23},
      {"t":9.57,"v":19.5},{"t":9.61,"v":17.5},{"t":9.65,"v":21},{"t":9.69,"v":16.5},{"t":9.71,"v":19.5},{"t":9.74,"v":20.5},{"t":9.78,"v":23.5},{"t":9.81,"v":17.5},{"t":9.83,"v":22},{"t":9.85,"v":25},{"t":9.87,"v":18.5},{"t":9.9,"v":21},{"t":9.93,"v":24.5},{"t":9.96,"v":20.5},{"t":9.99,"v":26.5},
      {"t":10.0,"v":28},{"t":10.01,"v":20},{"t":10.03,"v":18},{"t":10.05,"v":24},{"t":10.06,"v":30},{"t":10.08,"v":21},{"t":10.09,"v":32},{"t":10.1,"v":17},{"t":10.12,"v":26},{"t":10.13,"v":19},{"t":10.15,"v":29},{"t":10.16,"v":22},{"t":10.18,"v":35},{"t":10.19,"v":18},{"t":10.21,"v":39},{"t":10.22,"v":25},{"t":10.24,"v":20},{"t":10.25,"v":31},{"t":10.27,"v":30.8},{"t":10.28,"v":23},{"t":10.3,"v":18},{"t":10.31,"v":27},{"t":10.33,"v":21},{"t":10.35,"v":29},{"t":10.36,"v":24},{"t":10.38,"v":19},{"t":10.39,"v":29.3},{"t":10.41,"v":26},{"t":10.42,"v":22},{"t":10.44,"v":31},{"t":10.45,"v":20},{"t":10.47,"v":25},{"t":10.48,"v":28},{"t":10.5,"v":19},{"t":10.51,"v":26.3},{"t":10.53,"v":23},{"t":10.54,"v":30},{"t":10.56,"v":21},{"t":10.57,"v":27},{"t":10.59,"v":32},{"t":10.6,"v":20},{"t":10.62,"v":25},{"t":10.63,"v":29},{"t":10.65,"v":22},{"t":10.66,"v":41.4},{"t":10.67,"v":34},{"t":10.69,"v":32.3},{"t":10.7,"v":21},{"t":10.71,"v":27},{"t":10.73,"v":24},{"t":10.74,"v":36},{"t":10.75,"v":58},{"t":10.76,"v":30},{"t":10.78,"v":51.2},{"t":10.78,"v":22},{"t":10.8,"v":26},{"t":10.81,"v":57.7},{"t":10.81,"v":48.9},{"t":10.82,"v":33},{"t":10.84,"v":40.6},{"t":10.84,"v":36.1},{"t":10.85,"v":23},{"t":10.87,"v":28},{"t":10.88,"v":31},{"t":10.9,"v":21},{"t":10.91,"v":25},{"t":10.93,"v":48.2},{"t":10.94,"v":34},{"t":10.96,"v":30.8},{"t":10.97,"v":24},{"t":10.99,"v":27},
      {"t":10.02,"v":22.5},{"t":10.04,"v":27},{"t":10.07,"v":19.5},{"t":10.11,"v":23.5},{"t":10.14,"v":28},{"t":10.17,"v":20.5},{"t":10.2,"v":24},{"t":10.23,"v":28.5},{"t":10.26,"v":21.5},{"t":10.29,"v":26},{"t":10.32,"v":19.5},{"t":10.34,"v":24},{"t":10.37,"v":27.5},{"t":10.4,"v":21},{"t":10.43,"v":28.5},{"t":10.46,"v":23},{"t":10.49,"v":30},{"t":10.52,"v":21.5},{"t":10.55,"v":25.5},{"t":10.58,"v":28.5},{"t":10.61,"v":23},{"t":10.64,"v":27},{"t":10.68,"v":30.5},{"t":10.72,"v":22.5},{"t":10.77,"v":25.5},{"t":10.79,"v":29},{"t":10.83,"v":24.5},{"t":10.86,"v":30},{"t":10.89,"v":26.5},{"t":10.92,"v":23.5},{"t":10.95,"v":28},{"t":10.98,"v":25.5},
      {"t":11.0,"v":22},{"t":11.02,"v":51.9},{"t":11.02,"v":36.8},{"t":11.04,"v":45.1},{"t":11.05,"v":29},{"t":11.07,"v":25},{"t":11.08,"v":33},{"t":11.1,"v":23},{"t":11.11,"v":27},{"t":11.13,"v":35},{"t":11.14,"v":22},{"t":11.16,"v":30},{"t":11.17,"v":26},{"t":11.19,"v":32},{"t":11.2,"v":24},{"t":11.22,"v":28},{"t":11.23,"v":41.4},{"t":11.23,"v":37.6},{"t":11.23,"v":24.8},{"t":11.25,"v":31},{"t":11.26,"v":27},{"t":11.27,"v":20.3},{"t":11.28,"v":34},{"t":11.3,"v":33.1},{"t":11.31,"v":22},{"t":11.33,"v":39.9},{"t":11.34,"v":29},{"t":11.36,"v":26},{"t":11.38,"v":30},{"t":11.4,"v":28},
      {"t":11.01,"v":31},{"t":11.03,"v":24},{"t":11.06,"v":28},{"t":11.09,"v":31.5},{"t":11.12,"v":25},{"t":11.15,"v":29},{"t":11.18,"v":23},{"t":11.21,"v":27},{"t":11.24,"v":30},{"t":11.29,"v":25},{"t":11.32,"v":28},{"t":11.35,"v":31},{"t":11.37,"v":27.5},{"t":11.39,"v":29.5},
      {"t":11.44,"v":31},{"t":11.5,"v":32},{"t":11.56,"v":30.5},{"t":11.62,"v":31.5},{"t":11.74,"v":30.5},{"t":11.8,"v":32},{"t":11.86,"v":31},{"t":11.92,"v":30.2},{"t":12.04,"v":31.5},{"t":12.1,"v":30.5},{"t":12.2,"v":31},
      {"t":11.42,"v":28.3},{"t":11.45,"v":28.9},{"t":11.48,"v":28.5},{"t":11.51,"v":29.1},{"t":11.54,"v":28.2},{"t":11.57,"v":28.7},{"t":11.6,"v":28.4},{"t":11.63,"v":29},{"t":11.66,"v":28.6},{"t":11.69,"v":28.1},{"t":11.72,"v":28.8},{"t":11.75,"v":28.4},{"t":11.78,"v":29.1},{"t":11.81,"v":28.3},{"t":11.84,"v":28.7},{"t":11.87,"v":28.5},{"t":11.9,"v":29},{"t":11.93,"v":28.2},{"t":11.96,"v":28.8},{"t":11.99,"v":28.4},{"t":12.02,"v":28.9},{"t":12.05,"v":28.3},{"t":12.08,"v":28.6},{"t":12.11,"v":29.1},{"t":12.14,"v":28.2},{"t":12.17,"v":28.7},{"t":12.2,"v":28.5},{"t":12.23,"v":28.9},{"t":12.26,"v":28.3},{"t":12.29,"v":28.6},{"t":12.32,"v":28.4},{"t":12.35,"v":29},{"t":12.38,"v":28.5},{"t":12.41,"v":28.2},{"t":12.44,"v":28.8},{"t":12.47,"v":28.4},{"t":12.5,"v":28.9},{"t":12.53,"v":28.3},{"t":12.56,"v":28.7},{"t":12.59,"v":28.5},{"t":12.62,"v":29},{"t":12.65,"v":28.2},{"t":12.68,"v":28.6},{"t":12.71,"v":28.4},{"t":12.74,"v":28.9},{"t":12.77,"v":28.3},{"t":12.8,"v":28.7},{"t":12.83,"v":28.5},{"t":12.86,"v":29.1},{"t":12.89,"v":28.2},{"t":12.92,"v":28.8},{"t":12.95,"v":28.4},{"t":12.98,"v":28.9},
      {"t":13.01,"v":28.3},{"t":13.04,"v":28.6},{"t":13.07,"v":28.4},{"t":13.1,"v":29},{"t":13.13,"v":28.5},{"t":13.16,"v":28.2},{"t":13.19,"v":28.8},{"t":13.22,"v":28.4},{"t":13.25,"v":28.9},{"t":13.28,"v":28.3},{"t":13.31,"v":28.7},{"t":13.34,"v":28.5},{"t":13.37,"v":29},{"t":13.4,"v":28.2},{"t":13.43,"v":28.6},{"t":13.46,"v":28.4},{"t":13.49,"v":28.9},{"t":13.52,"v":28.3},{"t":13.55,"v":28.7},{"t":13.58,"v":28.5},{"t":13.61,"v":29.1},{"t":13.64,"v":28.2},{"t":13.67,"v":28.8},{"t":13.7,"v":28.4},{"t":13.73,"v":28.9},{"t":13.76,"v":28.3},{"t":13.79,"v":28.6},{"t":13.82,"v":28.4},{"t":13.85,"v":29},{"t":13.88,"v":28.5},{"t":13.91,"v":28.2},{"t":13.94,"v":28.8},{"t":13.97,"v":28.4},
      {"t":14.0,"v":28.9},{"t":14.03,"v":28.3},{"t":14.06,"v":28.7},{"t":14.09,"v":28.5},{"t":14.12,"v":29},{"t":14.15,"v":28.2},{"t":14.18,"v":28.6},{"t":14.21,"v":28.4},{"t":14.24,"v":28.9},{"t":14.27,"v":28.3},{"t":14.3,"v":28.7},{"t":14.33,"v":28.5},{"t":14.36,"v":29.1},{"t":14.39,"v":28.2},{"t":14.42,"v":28.8},{"t":14.45,"v":28.4},{"t":14.48,"v":28.9},{"t":14.51,"v":28.3},{"t":14.54,"v":28.6},{"t":14.57,"v":28.1},{"t":14.6,"v":28.7},{"t":14.63,"v":28},{"t":14.66,"v":28.5},{"t":14.69,"v":28.2},{"t":14.72,"v":28.8},{"t":14.75,"v":28},{"t":14.78,"v":28.6},{"t":14.81,"v":28.3},{"t":14.84,"v":28.9},{"t":14.87,"v":28.1},{"t":14.9,"v":28.6},{"t":14.93,"v":28.3},{"t":14.96,"v":28.8},{"t":14.99,"v":28.2},
      {"t":15.02,"v":28.6},{"t":15.05,"v":28},{"t":15.08,"v":28.7},{"t":15.11,"v":28.3},{"t":15.14,"v":28.9},{"t":15.17,"v":28.1},{"t":15.2,"v":28.6},{"t":15.23,"v":28.3},{"t":15.26,"v":28.8},{"t":15.29,"v":28.2},{"t":15.32,"v":28.6},{"t":15.35,"v":28},{"t":15.38,"v":28.7},{"t":15.41,"v":28.3},{"t":15.44,"v":28.9},{"t":15.47,"v":28.1},{"t":15.5,"v":28.6},{"t":15.53,"v":28.3},{"t":15.56,"v":28.8},{"t":15.59,"v":28.2},{"t":15.62,"v":28.6},{"t":15.65,"v":28},{"t":15.68,"v":28.7},{"t":15.71,"v":28.3},{"t":15.74,"v":28.9},{"t":15.77,"v":28.1},{"t":15.8,"v":28.6},{"t":15.83,"v":28.3},{"t":15.86,"v":28.8},{"t":15.89,"v":28.2},{"t":15.92,"v":28.6},{"t":15.95,"v":28.4},{"t":15.98,"v":28.7},
      {"t":11.69,"v":46.2},{"t":11.69,"v":42.9},{"t":11.67,"v":39.1},{"t":11.72,"v":36.8},{"t":11.7,"v":33},{"t":11.96,"v":69.3},{"t":12.13,"v":70.8},{"t":12.14,"v":66.3},{"t":11.92,"v":65.5},{"t":12.0,"v":63.2},{"t":11.96,"v":57.2},{"t":11.99,"v":52.7},{"t":11.99,"v":48.2},{"t":11.9,"v":51.9},{"t":11.95,"v":44},{"t":11.98,"v":40},{"t":11.97,"v":36},{"t":11.95,"v":33},{"t":12.14,"v":57.2},{"t":12.14,"v":44.4},{"t":12.15,"v":40.6},{"t":12.17,"v":34.6},{"t":12.16,"v":37.5},
      {"t":12.53,"v":51.9},{"t":12.61,"v":47},{"t":12.6,"v":30.5},{"t":13.04,"v":44.1},{"t":13.02,"v":30.2},{"t":13.28,"v":39.9},{"t":13.57,"v":65.8},{"t":13.7,"v":50},{"t":13.92,"v":48.9},{"t":13.92,"v":44.7},{"t":13.92,"v":39.9},{"t":14.01,"v":33.1},{"t":14.25,"v":57.7},{"t":14.19,"v":50.8},{"t":14.2,"v":50.2},{"t":14.16,"v":47.4},{"t":14.34,"v":45.1},{"t":14.52,"v":45.9},{"t":14.16,"v":38.4},{"t":14.25,"v":33.1},{"t":14.4,"v":34.6},{"t":14.6,"v":54.9},{"t":14.76,"v":63.2},{"t":14.76,"v":61.7},{"t":14.76,"v":56.5},{"t":14.79,"v":54.2},{"t":14.79,"v":50.4},{"t":14.73,"v":46.7},{"t":14.76,"v":42.1},{"t":14.79,"v":38.4},{"t":14.79,"v":35.3},{"t":14.61,"v":39.1},{"t":14.7,"v":32},{"t":14.82,"v":31},
      {"t":15.24,"v":65},{"t":15.24,"v":47},{"t":15.24,"v":42.1},{"t":15.36,"v":36.8},{"t":15.22,"v":34},{"t":15.27,"v":32.3},{"t":15.66,"v":56},{"t":15.81,"v":61},{"t":15.75,"v":35.3},{"t":15.7,"v":31},{"t":15.96,"v":51.9},{"t":15.99,"v":49.7},{"t":15.99,"v":45.1},{"t":15.93,"v":44.4},{"t":15.96,"v":41.4},{"t":15.99,"v":39.1},{"t":15.99,"v":35.3},{"t":15.98,"v":32},{"t":16.0,"v":28.6}
    ]
  },
  "vconcat": [
    {
      "width": 886, "height": 179,
      "data": {"name": "counts"},
      "mark": {"type": "circle", "size": 85, "opacity": 1, "stroke": "#ff0000", "strokeWidth": 1.1},
      "encoding": {
        "x": {
          "field": "t", "type": "quantitative",
          "scale": {"domain": [0, 16], "nice": false, "zero": false},
          "axis": {
            "title": "Time [hr]",
            "values": [0,1,2,3,4,5,6,7,8,9,10,11,12,13,14,15,16],
            "labelExpr": "datum.value % 2 == 0 ? datum.label : ''",
            "tickSize": {"condition": {"test": "datum.value % 2 == 0", "value": 10}, "value": 5},
            "gridOpacity": {"condition": {"test": "datum.value % 2 == 0", "value": 1}, "value": 0},
            "labelPadding": 8, "titlePadding": 10
          }
        },
        "y": {
          "field": "v", "type": "quantitative",
          "scale": {"type": "log", "domain": [1, 10000], "nice": false},
          "axis": {
            "title": "Counts [count]", "format": "d",
            "values": [1,2,3,4,5,6,7,8,9,10,20,30,40,50,60,70,80,90,100,200,300,400,500,600,700,800,900,1000,2000,3000,4000,5000,6000,7000,8000,9000,10000],
            "labelExpr": "indexof([1,10,100,1000,10000], datum.value) >= 0 ? datum.label : ''",
            "tickSize": {"condition": {"test": "indexof([1,10,100,1000,10000], datum.value) >= 0", "value": 10}, "value": 5},
            "gridOpacity": {"condition": {"test": "indexof([1,10,100,1000,10000], datum.value) >= 0", "value": 1}, "value": 0},
            "labelPadding": 13, "minExtent": 70, "maxExtent": 70, "titlePadding": 21.5
          }
        },
        "fill": {
          "datum": "Counts", "type": "nominal",
          "scale": {"range": ["#ffff00"]},
          "legend": {
            "legendX": 300, "legendY": 46.5,
            "symbolFillColor": "#ffff00", "symbolStrokeColor": "#ff0000", "symbolStrokeWidth": 1,
            "labelExpr": "datum.label + '\u00a0\u00a0\u00a0\u00a0\u00a0\u00a0\u00a0\u00a0\u00a0\u00a0\u00a0\u00a0\u00a0\u00a0\u00a0\u00a0\u00a0\u00a0\u00a0\u200b'"
          }
        }
      }
    },
    {
      "width": 886, "height": 176,
      "data": {"name": "amplitude"},
      "mark": {"type": "circle", "size": 100, "opacity": 1, "stroke": "#000000", "strokeWidth": 1.2},
      "encoding": {
        "x": {
          "field": "t", "type": "quantitative",
          "scale": {"domain": [0, 16], "nice": false, "zero": false},
          "axis": {
            "title": "Time [hr]",
            "values": [0,1,2,3,4,5,6,7,8,9,10,11,12,13,14,15,16],
            "labelExpr": "datum.value % 2 == 0 ? datum.label : ''",
            "tickSize": {"condition": {"test": "datum.value % 2 == 0", "value": 10}, "value": 5},
            "gridOpacity": {"condition": {"test": "datum.value % 2 == 0", "value": 1}, "value": 0},
            "labelPadding": 8, "titlePadding": 10
          }
        },
        "y": {
          "field": "v", "type": "quantitative",
          "scale": {"domain": [40, 100], "nice": false, "zero": false},
          "axis": {
            "title": "Amplitude [dB]",
            "values": [40,41,42,43,44,45,46,47,48,49,50,51,52,53,54,55,56,57,58,59,60,61,62,63,64,65,66,67,68,69,70,71,72,73,74,75,76,77,78,79,80,81,82,83,84,85,86,87,88,89,90,91,92,93,94,95,96,97,98,99,100],
            "labelExpr": "datum.value % 10 == 0 ? datum.label : ''",
            "tickSize": {"condition": {"test": "datum.value % 10 == 0", "value": 10}, "value": 5},
            "gridOpacity": {"condition": {"test": "datum.value % 10 == 0", "value": 1}, "value": 0},
            "labelPadding": 13, "minExtent": 70, "maxExtent": 70, "titlePadding": 21.5
          }
        },
        "fill": {
          "datum": "Amplitude", "type": "nominal",
          "scale": {"range": ["#ff0000"]},
          "legend": {
            "legendX": 297, "legendY": 46.5,
            "symbolFillColor": "#ff0000", "symbolStrokeColor": "#000000", "symbolStrokeWidth": 1,
            "labelExpr": "datum.label + '\u00a0\u00a0\u00a0\u00a0\u00a0\u00a0\u00a0\u00a0\u00a0\u00a0\u00a0\u00a0\u00a0\u00a0\u200b'"
          }
        }
      }
    },
    {
      "width": 886, "height": 177,
      "data": {"name": "asl"},
      "mark": {"type": "circle", "size": 80, "opacity": 1, "stroke": "#0000ff", "strokeWidth": 1.8},
      "encoding": {
        "x": {
          "field": "t", "type": "quantitative",
          "scale": {"domain": [0, 16], "nice": false, "zero": false},
          "axis": {
            "title": "Time [hr]",
            "values": [0,1,2,3,4,5,6,7,8,9,10,11,12,13,14,15,16],
            "labelExpr": "datum.value % 2 == 0 ? datum.label : ''",
            "tickSize": {"condition": {"test": "datum.value % 2 == 0", "value": 10}, "value": 5},
            "gridOpacity": {"condition": {"test": "datum.value % 2 == 0", "value": 1}, "value": 0},
            "labelPadding": 8, "titlePadding": 10
          }
        },
        "y": {
          "field": "v", "type": "quantitative",
          "scale": {"domain": [10, 90], "nice": false, "zero": false},
          "axis": {
            "title": "ASL [dB]",
            "values": [10,11,12,13,14,15,16,17,18,19,20,21,22,23,24,25,26,27,28,29,30,31,32,33,34,35,36,37,38,39,40,41,42,43,44,45,46,47,48,49,50,51,52,53,54,55,56,57,58,59,60,61,62,63,64,65,66,67,68,69,70,71,72,73,74,75,76,77,78,79,80,81,82,83,84,85,86,87,88,89,90],
            "labelExpr": "datum.value % 10 == 0 ? datum.label : ''",
            "tickSize": {"condition": {"test": "datum.value % 10 == 0", "value": 10}, "value": 5},
            "gridOpacity": {"condition": {"test": "datum.value % 10 == 0", "value": 1}, "value": 0},
            "labelPadding": 13, "minExtent": 70, "maxExtent": 70, "titlePadding": 21.5
          }
        },
        "fill": {
          "datum": "ASL", "type": "nominal",
          "scale": {"range": ["#00ff00"]},
          "legend": {
            "legendX": 298, "legendY": 48.5,
            "symbolFillColor": "#00ff00", "symbolStrokeColor": "#0000ff", "symbolStrokeWidth": 1.5,
            "labelExpr": "datum.label + '\u00a0\u00a0\u00a0\u00a0\u00a0\u00a0\u00a0\u00a0\u00a0\u00a0\u00a0\u00a0\u00a0\u00a0\u00a0\u00a0\u00a0\u00a0\u00a0\u00a0\u00a0\u00a0\u00a0\u00a0\u200b'"
          }
        }
      }
    }
  ]
}
